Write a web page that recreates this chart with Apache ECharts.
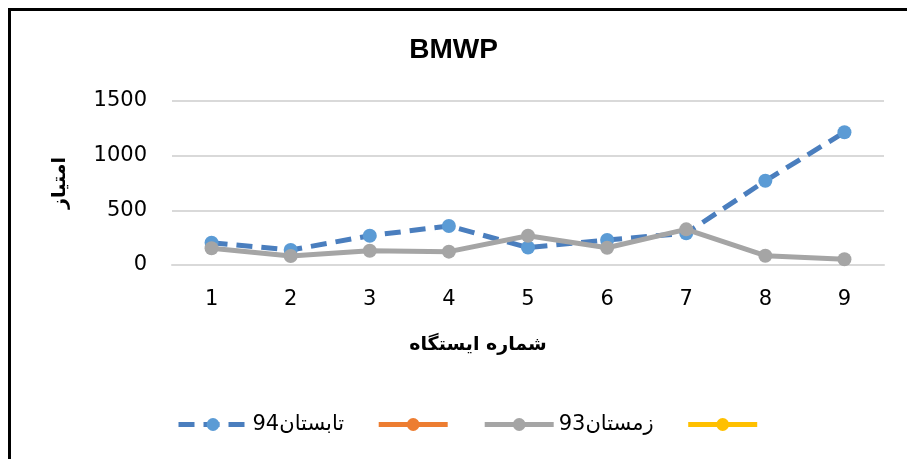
<!DOCTYPE html>
<html><head><meta charset="utf-8">
<script src="https://cdn.jsdelivr.net/npm/echarts@6/dist/echarts.min.js"></script>
<style>html,body{margin:0;padding:0;background:#fff}#c{width:907px;height:459px}</style>
</head><body><div id="c"></div>
<script>
var categories = ['1','2','3','4','5','6','7','8','9'];
var summer94 = [204, 137, 268, 357, 160, 229, 290, 770, 1214];
var winter93 = [153, 82, 131, 122, 268, 158, 326, 85, 52];
var emptySeriesA = [];
var emptySeriesB = [];
var seriesNames = ['94تابستان', 's2', '93زمستان', 's4'];
var legendLabels = {'94تابستان': '94تابستان', 's2': '', '93زمستان': '93زمستان', 's4': ''};
var yTicks = [0, 500, 1000, 1500];

var chart = echarts.init(document.getElementById('c'), null, {renderer: 'canvas'});
var F = 'DejaVu Sans';
chart.setOption({
  animation: false,
  backgroundColor: '#fff',
  title: [
    {text: 'BMWP', left: 'center', top: 31,
     textStyle: {fontFamily: 'Liberation Sans', fontWeight: 'bold', fontSize: 28, color: '#000'}},
    {text: 'شماره ایستگاه', left: 478, top: 345, textAlign: 'center', textVerticalAlign: 'middle', padding: 0,
     textStyle: {fontFamily: F, fontWeight: 'bold', fontSize: 19, color: '#000'}}
  ],
  grid: {left: 172, right: 23, top: 101, bottom: 194},
  legend: {
    left: 171, top: 409, itemWidth: 69, itemHeight: 16, itemGap: 32,
    data: seriesNames,
    lineStyle: {width: 5},
    formatter: function (n) { return legendLabels[n]; },
    textStyle: {fontFamily: F, fontSize: 21, color: '#000'}
  },
  xAxis: {
    type: 'category', data: categories, boundaryGap: true,
    axisLine: {show: true, lineStyle: {color: '#d9d9d9', width: 2}},
    axisTick: {show: false},
    axisLabel: {fontFamily: F, fontSize: 21, color: '#000', margin: 24}
  },
  yAxis: {
    type: 'value', min: yTicks[0], max: yTicks[yTicks.length - 1], interval: 500,
    name: 'امتیاز', nameLocation: 'middle', nameGap: 102, nameRotate: 90,
    nameTextStyle: {fontFamily: F, fontWeight: 'bold', fontSize: 19, color: '#000'},
    axisLine: {show: false}, axisTick: {show: false},
    splitLine: {lineStyle: {color: '#d9d9d9', width: 2}},
    axisLabel: {fontFamily: F, fontSize: 21, color: '#000', margin: 25,
      formatter: function (v) { return String(v); }}
  },
  series: [
    {name: seriesNames[0], type: 'line', data: summer94, symbol: 'circle', symbolSize: 14,
     lineStyle: {color: '#4A7EBE', width: 5, type: [16, 9]},
     itemStyle: {color: '#5B9BD5'}, z: 2},
    {name: seriesNames[1], type: 'line', data: emptySeriesA, symbol: 'circle', symbolSize: 14,
     lineStyle: {color: '#ED7D31', width: 5}, itemStyle: {color: '#ED7D31'}},
    {name: seriesNames[2], type: 'line', data: winter93, symbol: 'circle', symbolSize: 14,
     lineStyle: {color: '#A5A5A5', width: 5}, itemStyle: {color: '#A5A5A5'}, z: 3},
    {name: seriesNames[3], type: 'line', data: emptySeriesB, symbol: 'circle', symbolSize: 14,
     lineStyle: {color: '#FFC000', width: 5}, itemStyle: {color: '#FFC000'}}
  ],
  graphic: [
    {type: 'rect', shape: {x: 8, y: 8, width: 899, height: 3}, style: {fill: '#000'}, z: 100},
    {type: 'rect', shape: {x: 8, y: 8, width: 3, height: 451}, style: {fill: '#000'}, z: 100}
  ]
});
</script></body></html>
